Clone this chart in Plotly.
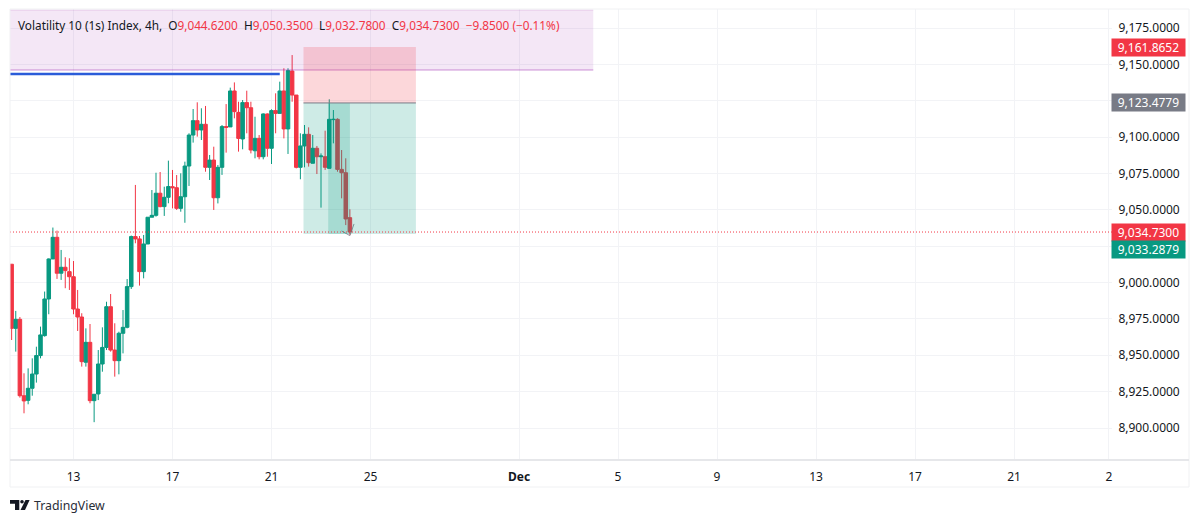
import pandas as pd
import plotly.graph_objects as go

FONT = "Noto Sans"
RED = "#f23645"
GREEN = "#089981"
TEXT = "#131722"

# --- data ---
first_bar = "2024-11-10 12:00"
opens = [9012.6,8968.5,8974.7,8922.2,8919,8927.3,8937.1,8949.8,8963.5,8988.7,
         9016.2,9031.1,9006.4,9010.5,9007.5,9004,8981.8,8976.3,8945.2,8958.9,
         8918.8,8923.4,8944,8955.4,8983.4,8953.6,8946.3,8965.1,8969.2,8997.2,
         9031.6,9030,9007.5,9026.5,9044.9,9046.2,9061.4,9052.2,9058.6,9065.9,
         9065.2,9051,9059,9080.1,9101.4,9111.3,9104.9,9108.8,9079.2,9084.2,
         9058.3,9079.2,9107.2,9107,9131.7,9117,9098.7,9123.7,9120.2,9090.6,
         9099.1,9086.5,9115.9,9092.3,9118.2,9116.3,9131.7,9105.6,9145.4,9128.9,
         9079.2,9093.9,9101.9,9082,9092.3,9086.5,9086.5,9078.5,9112,9112.2,
         9077.8,9075.5,9044.62]
highs = [9012.6,8980.5,8976.3,8937.6,8941,8947.9,8955.9,8969.7,8993.8,9016.6,
         9037.8,9035.7,9022.4,9017.4,9016.7,9014.8,8994.9,8978.9,8968.5,8971.5,
         8923.2,8953.6,8969.2,8986.8,8992.1,8972,8966.2,8981.1,9002.4,9032.3,
         9067.1,9032,9032.7,9044.9,9063.6,9075.5,9076,9065.9,9083.8,9077.4,
         9073.9,9075.1,9083.1,9102.6,9119.3,9123.9,9119.8,9121.4,9087.7,9093.4,
         9080.8,9108.3,9122.7,9134,9137.6,9124.3,9125.5,9131.9,9124.3,9114,
         9101.4,9116.3,9116.3,9119.1,9130.1,9138.1,9147.3,9147.3,9156.4,9128.9,
         9102.6,9108.3,9106.7,9101.4,9093.9,9088.8,9104.4,9126,9118.6,9112.9,
         9091.1,9085.4,9050.35]
lows = [8960.5,8952.5,8920.9,8910.1,8916.3,8922.2,8931.2,8947.9,8962.8,8978.2,
        9016.2,9002.5,9001.8,8996.1,8994.9,8978.2,8966.7,8942.2,8942.2,8917,
        8904,8919.2,8938.7,8953.6,8952.5,8935.3,8936.9,8951.3,8968.5,8995.6,
        9027,8997.9,9002.9,9026.5,9044.9,9045.3,9051.7,9045.8,9054.5,9051,
        9049.9,9048.7,9041.1,9066.4,9096.2,9100.3,9098,9076.2,9070.5,9049.9,
        9054.4,9074,9089.3,9107,9112.9,9090,9091.6,9102.6,9088.8,9085.4,
        9084.7,9084.7,9086.5,9081.5,9102.6,9116.3,9099.1,9088.4,9124.3,9078.5,
        9071,9079.2,9079.7,9082,9074.6,9051.5,9077.4,9078.5,9095.7,9076.2,
        9057.9,9039.5,9032.78]
closes = [8968.5,8974.7,8922.2,8918.6,8927.3,8937.1,8949.8,8964,8988.7,9016.2,
          9031.1,9006.4,9010.5,9008.2,9004,8981.8,8976.3,8945.6,8958.9,8918.8,
          8923.2,8944,8955.4,8983.4,8953.6,8946.3,8965.1,8969.2,8997.2,9031.6,
          9030,9007.5,9026.5,9044.9,9046.2,9061.4,9052.2,9058.6,9066,9065.2,
          9051,9059,9080.1,9101.4,9111.3,9104.9,9108.8,9079.2,9084.2,9058.3,
          9079.2,9107.2,9106.7,9131.7,9117.5,9099.1,9123.7,9120.2,9091.1,9099.1,
          9086.5,9115.9,9092.3,9118.2,9116.3,9131.7,9105.6,9145.7,9128.9,9079.2,
          9093.9,9101.9,9082.4,9092.3,9086.5,9087,9079.2,9112.2,9112.2,9077.8,
          9075.5,9043.7,9034.73]

price_ticks = [9175,9150,9125,9100,9075,9050,9025,9000,8975,8950,8925,8900]
price_labels = ["9,175.0000","9,150.0000","","9,100.0000","9,075.0000","9,050.0000","",
                "9,000.0000","8,975.0000","8,950.0000","8,925.0000","8,900.0000"]
date_ticks = ["2024-11-13","2024-11-17","2024-11-21","2024-11-25","2024-12-01","2024-12-05",
              "2024-12-09","2024-12-13","2024-12-17","2024-12-21","2024-12-24 20:00"]
date_labels = ["13","17","21","25","<b>Dec</b>","5","9","13","17","21","2"]

last_price = 9034.73
stop_price = 9161.8652
entry_price = 9123.4779
target_price = 9033.2879
zone_top, zone_bottom = 9187.4, 9146.1
blue_level = 9143.4
x_view = ["2024-11-10 10:25", "2024-12-24 23:00"]
zone_end = "2024-12-04 00:00"
blue_end = "2024-11-21 08:00"
pos_start, pos_end = "2024-11-22 07:00", "2024-11-26 20:00"
held_start, held_end = "2024-11-23 07:00", "2024-11-24 04:00"

# page geometry of the 1200x523 picture
W, H = 1200, 523
L, R, T, B = 10, 1112, 9, 460
y_view = [8878.0, 9188.06]

def px(x):
    return (x - L) / (R - L)
def py(y):
    return (B - y) / (B - T)

dates = pd.date_range(first_bar, periods=len(opens), freq="4h")

fig = go.Figure()
fig.add_trace(go.Candlestick(
    x=dates, open=opens, high=highs, low=lows, close=closes,
    increasing=dict(line=dict(color=GREEN, width=1), fillcolor=GREEN),
    decreasing=dict(line=dict(color=RED, width=1), fillcolor=RED),
    whiskerwidth=0, hoverinfo="skip", showlegend=False,
))
# exit marker of the position tool
fig.add_trace(go.Scatter(
    x=["2024-11-23 20:00", dates[-1], "2024-11-24 08:00"],
    y=[target_price + 2.2, last_price - 2.5, target_price + 7],
    mode="lines", line=dict(color="#787b86", width=1), opacity=0.8,
    hoverinfo="skip", showlegend=False,
))

shapes = [
    # drawn zones
    dict(type="rect", x0=x_view[0], x1=zone_end, y0=zone_bottom, y1=zone_top, xref="x", yref="y",
         fillcolor="rgba(156,39,176,0.11)", line=dict(width=0)),
    dict(type="line", x0=x_view[0], x1=zone_end, y0=zone_bottom, y1=zone_bottom, xref="x", yref="y",
         line=dict(color="rgba(156,39,176,0.25)", width=2)),
    dict(type="line", x0=x_view[0], x1=zone_end, y0=zone_top, y1=zone_top, xref="x", yref="y",
         line=dict(color="rgba(156,39,176,0.2)", width=1)),
    dict(type="line", x0=x_view[0], x1=blue_end, y0=blue_level, y1=blue_level, xref="x", yref="y",
         line=dict(color="#2b5cd9", width=2.5)),
    # short position tool
    dict(type="rect", x0=pos_start, x1=pos_end, y0=entry_price, y1=stop_price, xref="x", yref="y",
         fillcolor="rgba(242,54,69,0.2)", line=dict(width=0)),
    dict(type="rect", x0=pos_start, x1=pos_end, y0=target_price, y1=entry_price, xref="x", yref="y",
         fillcolor="rgba(8,153,129,0.2)", line=dict(width=0)),
    dict(type="rect", x0=held_start, x1=held_end, y0=target_price, y1=entry_price, xref="x", yref="y",
         fillcolor="rgba(8,153,129,0.2)", line=dict(width=0)),
    dict(type="line", x0=pos_start, x1=pos_end, y0=entry_price, y1=entry_price, xref="x", yref="y",
         line=dict(color="#787b86", width=1)),
    # last price line
    dict(type="line", x0=x_view[0], x1=x_view[1], y0=last_price, y1=last_price, xref="x", yref="y",
         line=dict(color=RED, width=1, dash="1px,2px")),
    # chart frame
    dict(type="rect", x0=px(L), x1=px(1189), y0=py(487), y1=py(T), xref="paper", yref="paper",
         line=dict(color="#f0f1f3", width=1)),
    dict(type="line", x0=px(L), x1=px(1189), y0=py(460), y1=py(460), xref="paper", yref="paper",
         line=dict(color="#e6e7ea", width=2)),
    # logo
    dict(type="path", xref="paper", yref="paper", fillcolor="#131722", line=dict(width=0),
         path=f"M{px(10)},{py(500)} L{px(19.3)},{py(500)} L{px(19.3)},{py(510)} L{px(15)},{py(510)} "
              f"L{px(15)},{py(503.8)} L{px(10)},{py(503.8)} Z"),
    dict(type="path", xref="paper", yref="paper", fillcolor="#131722", line=dict(width=0),
         path=f"M{px(25.5)},{py(500)} L{px(29.6)},{py(500)} L{px(25)},{py(510)} L{px(20.5)},{py(510)} Z"),
    dict(type="circle", xref="paper", yref="paper", fillcolor="#131722", line=dict(width=0),
         x0=px(20.2), x1=px(23.8), y0=py(503.6), y1=py(500)),
]

annotations = [
    dict(xref="paper", yref="paper", x=px(16), y=py(25), xanchor="left", yanchor="middle", showarrow=False,
         font=dict(family=FONT, size=11.8, color=TEXT),
         text=(f"Volatility 10 (1s) Index, 4h,  O<span style='color:{RED}'>9,044.6200</span>  "
               f"H<span style='color:{RED}'>9,050.3500</span>  L<span style='color:{RED}'>9,032.7800</span>  "
               f"C<span style='color:{RED}'>9,034.7300</span>  <span style='color:{RED}'>−9.8500 (−0.11%)</span>")),
    dict(xref="paper", yref="paper", x=px(31.5), y=py(505.5), xanchor="left", yanchor="middle", showarrow=False,
         font=dict(family=FONT, size=12.3, color="#2a2e39"), text="TradingView"),
]

def badge(price, label, color, shift=0):
    annotations.append(dict(
        xref="paper", yref="y", x=px(1111), y=price, yshift=shift, xanchor="left", yanchor="middle",
        showarrow=False, text=label, bgcolor=color, width=71, height=15, borderpad=1, align="center",
        font=dict(family=FONT, size=12, color="white"),
    ))

badge(stop_price, "9,161.8652", RED)
badge(entry_price, "9,123.4779", "#787b86")
badge(last_price, "9,034.7300", RED)
badge(target_price, "9,033.2879", GREEN, shift=-15)

fig.update_layout(
    width=W, height=H, margin=dict(l=L, r=W - R, t=T, b=H - B),
    paper_bgcolor="white", plot_bgcolor="white", showlegend=False, boxgap=0.1, boxgroupgap=0.05,
    font=dict(family=FONT, size=12, color=TEXT),
    shapes=shapes, annotations=annotations,
    xaxis=dict(type="date", range=x_view, rangeslider=dict(visible=False),
               tickmode="array", tickvals=date_ticks, ticktext=date_labels, tickangle=0,
               showgrid=True, gridcolor="#f2f3f6", gridwidth=1, zeroline=False, showline=False,
               ticks="outside", ticklen=6, tickcolor="rgba(0,0,0,0)",
               tickfont=dict(family=FONT, size=12, color=TEXT)),
    yaxis=dict(range=y_view, side="right", tickmode="array", tickvals=price_ticks, ticktext=price_labels,
               showgrid=True, gridcolor="#f2f3f6", gridwidth=1, zeroline=False, showline=False,
               ticks="outside", ticklen=3, tickcolor="rgba(0,0,0,0)",
               tickfont=dict(family=FONT, size=12, color=TEXT)),
)

fig.write_html("out.html", config={"displayModeBar": False},
               post_script="document.body.style.margin='0';document.body.style.overflow='hidden';")
